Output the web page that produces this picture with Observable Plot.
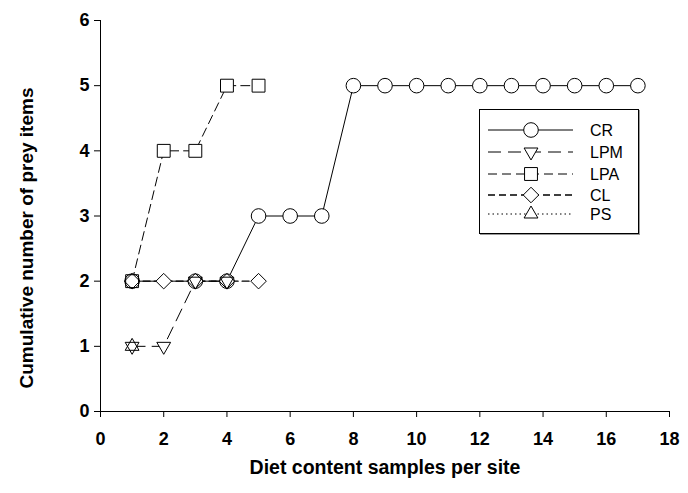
<!DOCTYPE html>
<html>
<head>
<meta charset="utf-8">
<script src="https://cdn.jsdelivr.net/npm/d3@7"></script>
<script src="https://cdn.jsdelivr.net/npm/@observablehq/plot@0.6"></script>
<style>
  html, body { margin: 0; padding: 0; background: #fff; }
  #chart { width: 688px; height: 493px; }
</style>
</head>
<body>
<div id="chart"></div>
<script>
// ---- data ----
const seriesNames = ["CR", "LPM", "LPA", "CL", "PS"];
const crX  = [1, 3, 4, 5, 6, 7, 8, 9, 10, 11, 12, 13, 14, 15, 16, 17];
const crY  = [2, 2, 2, 3, 3, 3, 5, 5, 5, 5, 5, 5, 5, 5, 5, 5];
const lpmX = [1, 2, 3, 4];
const lpmY = [1, 1, 2, 2];
const lpaX = [1, 2, 3, 4, 5];
const lpaY = [2, 4, 4, 5, 5];
const clX  = [1, 2, 3, 4, 5];
const clY  = [2, 2, 2, 2, 2];
const psX  = [1];
const psY  = [1];
const xTicks = [0, 2, 4, 6, 8, 10, 12, 14, 16, 18];
const yTicks = [0, 1, 2, 3, 4, 5, 6];
const xLabel = "Diet content samples per site";
const yLabel = "Cumulative number of prey items";

// ---- symbols ----
const triDown = {
  draw(context, size) {
    const s = Math.sqrt(size) * 0.6824, t = s / 2, u = s * Math.sqrt(3) / 2;
    context.moveTo(0, s);
    context.lineTo(u, -t);
    context.lineTo(-u, -t);
    context.closePath();
  }
};
const styles = {
  CR:  {dash: null,    symbol: "circle",   r: 7.3, width: 1},
  LPM: {dash: "13,7",  symbol: triDown,    r: 6.6, width: 1},
  LPA: {dash: "9,5",   symbol: "square2",  r: 8.2, width: 1},
  CL:  {dash: "7,4",   symbol: "diamond2", r: 7.0, width: 1.3},
  PS:  {dash: "1.5,3", symbol: "triangle2",r: 6.6, width: 1}
};
const raw = {CR: [crX, crY], LPM: [lpmX, lpmY], LPA: [lpaX, lpaY], CL: [clX, clY], PS: [psX, psY]};
const seriesData = seriesNames.map(name => ({
  name,
  points: raw[name][0].map((x, i) => ({series: name, x, y: raw[name][1][i]}))
}));

const marks = [];
for (const s of seriesData) {
  const st = styles[s.name];
  marks.push(Plot.line(s.points, {x: "x", y: "y", stroke: "black", strokeWidth: st.width, strokeDasharray: st.dash || undefined}));
}
for (const s of seriesData) {
  const st = styles[s.name];
  marks.push(Plot.dot(s.points, {x: "x", y: "y", symbol: st.symbol, r: st.r, fill: "white", stroke: "none"}));
}
for (const s of seriesData) {
  const st = styles[s.name];
  marks.push(Plot.dot(s.points, {x: "x", y: "y", symbol: st.symbol, r: st.r, fill: "none", stroke: "black", strokeWidth: 1}));
}

const chart = Plot.plot({
  width: 688,
  height: 493,
  marginLeft: 100,
  marginRight: 19,
  marginTop: 20,
  marginBottom: 82,
  style: {fontFamily: "'Liberation Sans', Arial, sans-serif", fontSize: "18px", fontWeight: "bold", background: "white", color: "black", overflow: "visible"},
  x: {domain: [0, 18]},
  y: {domain: [0, 6]},
  marks: [
    Plot.ruleX([0], {stroke: "black"}),
    Plot.ruleY([0], {stroke: "black"}),
    Plot.axisX({ticks: xTicks, tickSize: 6, tickPadding: 15, tickFormat: d => d, fontSize: 18, fontWeight: "bold", label: null}),
    Plot.axisY({ticks: yTicks, tickSize: 6, tickPadding: 5, tickFormat: d => d, fontSize: 18, fontWeight: "bold", label: null}),
    Plot.axisX({ticks: [], tickSize: 0, label: xLabel, labelAnchor: "center", labelArrow: "none", labelOffset: 62, fontSize: 19.5, fontWeight: "bold"}),
    Plot.axisY({ticks: [], tickSize: 0, label: yLabel, labelAnchor: "center", labelArrow: "none", labelOffset: 81, fontSize: 19, fontWeight: "bold"}),
    ...marks
  ]
});
document.getElementById("chart").appendChild(chart);

const svg = d3.select(chart.tagName.toLowerCase() === "svg" ? chart : chart.querySelector("svg"));
// nudge the y title down to where the reference centres it
svg.selectAll("text").filter(function () { return (this.textContent || "").indexOf("Cumulative") >= 0; })
  .each(function () {
    const t = d3.select(this);
    const prev = t.attr("transform") || "";
    t.attr("transform", "translate(0,22) " + prev);
  });

// ---- legend (drawn inside the svg) ----
const lg = svg.append("g").attr("class", "legend");
const box = {x: 479, y: 109, w: 159, h: 124};
lg.append("rect").attr("x", box.x + 1.5).attr("y", box.y + 1.5).attr("width", box.w).attr("height", box.h)
  .attr("fill", "none").attr("stroke", "#999").attr("stroke-width", 1);
lg.append("rect").attr("x", box.x + 0.5).attr("y", box.y + 0.5).attr("width", box.w).attr("height", box.h)
  .attr("fill", "white").attr("stroke", "black").attr("stroke-width", 1);
const rowY = [130, 152, 174, 195, 214];
seriesNames.forEach((name, i) => {
  const st = styles[name];
  const y = rowY[i];
  lg.append("line").attr("x1", 488).attr("x2", 573).attr("y1", y).attr("y2", y)
    .attr("stroke", "black").attr("stroke-width", st.width)
    .attr("stroke-dasharray", st.dash || null);
  const symMap = {circle: d3.symbolCircle, square2: d3.symbolSquare2, diamond2: d3.symbolDiamond2, triangle2: d3.symbolTriangle2};
  const sym = typeof st.symbol === "string" ? symMap[st.symbol] : st.symbol;
  const size = Math.PI * st.r * st.r;
  lg.append("path").attr("transform", `translate(531,${y})`)
    .attr("d", d3.symbol(sym, size)())
    .attr("fill", "white").attr("stroke", "black").attr("stroke-width", 1);
  lg.append("text").attr("x", 590).attr("y", y).attr("dy", "0.35em")
    .attr("text-anchor", "start")
    .attr("font-size", 16).attr("font-weight", "normal")
    .attr("font-family", "'Liberation Sans', Arial, sans-serif")
    .attr("fill", "black").text(name);
});
</script>
</body>
</html>
